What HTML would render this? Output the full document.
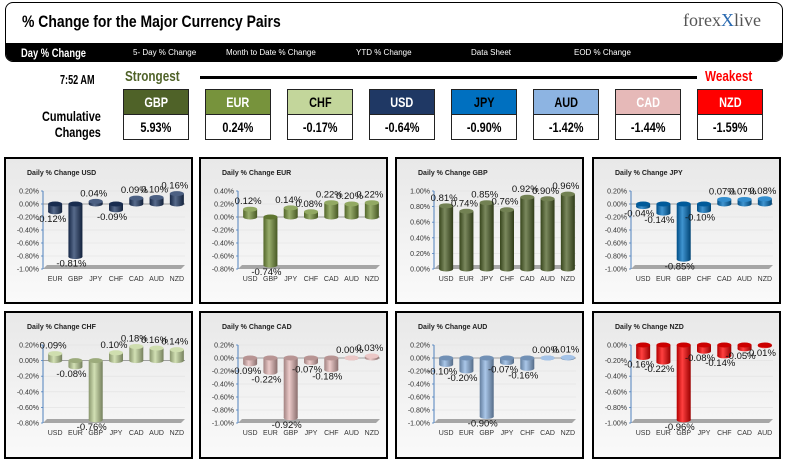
<!DOCTYPE html>
<html><head><meta charset="utf-8">
<style>
body{margin:0;background:#fff;width:789px;height:462px;overflow:hidden;font-family:"Liberation Sans",sans-serif;position:relative}
.a{position:absolute;white-space:nowrap}
.nar{font-family:"Liberation Sans Narrow","Liberation Sans",sans-serif;font-weight:bold;transform:scaleX(0.78);transform-origin:0 0}
.cb,.cv{position:absolute;width:64px;height:24px;border:1px solid #222;text-align:center;line-height:24px;font-size:14px;font-weight:bold}
.cv{background:#fff}
.cb span,.cv span{display:inline-block;transform:scaleX(0.78)}
</style></head><body>
<div class="a" style="left:5px;top:2px;width:776px;height:58px;border:1px solid #000;border-radius:8px;overflow:hidden">
  <div class="a nar" style="left:16px;top:9px;font-size:17px;transform:scaleX(0.82)">% Change for the Major Currency Pairs</div>
  <div class="a" style="left:677px;top:7px;font-family:'Liberation Serif',serif;font-size:18px;color:#555">forex<span style="color:#2a6ab0">X</span>live</div>
  <div class="a" style="left:0;top:40px;width:776px;height:20px;background:#000;color:#fff">
    <div class="a nar" style="left:15px;top:3px;font-size:12px">Day % Change</div>
    <div class="a" style="left:127px;top:5px;font-size:8px">5- Day % Change</div>
    <div class="a" style="left:220px;top:5px;font-size:8px">Month to Date % Change</div>
    <div class="a" style="left:350px;top:5px;font-size:8px">YTD % Change</div>
    <div class="a" style="left:465px;top:5px;font-size:8px">Data Sheet</div>
    <div class="a" style="left:568px;top:5px;font-size:8px">EOD % Change</div>
  </div>
</div>
<div class="a nar" style="left:60px;top:72px;font-size:13px;transform:scaleX(0.7)">7:52 AM</div>
<div class="a nar" style="left:125px;top:68px;font-size:15px;color:#4f6228">Strongest</div>
<div class="a" style="left:200px;top:76px;width:497px;height:3px;background:#000"></div>
<div class="a nar" style="left:705px;top:68px;font-size:15px;color:#ff0000">Weakest</div>
<div class="a nar" style="left:42px;top:108px;font-size:14px;text-align:right;line-height:16px;transform:scaleX(0.78)">Cumulative<br>Changes</div>
<div id="boxes"></div>
<div id="panels"></div>
<script>
const rankNames=["GBP","EUR","CHF","USD","JPY","AUD","CAD","NZD"];
const rankValues=["5.93%","0.24%","-0.17%","-0.64%","-0.90%","-1.42%","-1.44%","-1.59%"];
const colors={USD:"#1f3864",EUR:"#77933c",GBP:"#4f6228",JPY:"#0070c0",CHF:"#c3d69b",CAD:"#e6b9b8",AUD:"#8db4e2",NZD:"#ff0000"};
const textCol={GBP:"#fff",EUR:"#fff",CHF:"#000",USD:"#fff",JPY:"#000",AUD:"#000",CAD:"#fff",NZD:"#fff"};
const bx=document.getElementById('boxes');
rankNames.forEach((n,i)=>{
  const x=123+i*82;
  const h=document.createElement('div');h.className='cb';
  
  
  h.style.cssText=`left:${x}px;top:89px;background:${colors[n]};color:${textCol[n]}`;h.innerHTML='<span>'+n+'</span>';bx.appendChild(h);
  const v=document.createElement('div');v.className='cv';
  
  
  v.style.cssText=`left:${x}px;top:114px`;v.innerHTML='<span>'+rankValues[i]+'</span>';bx.appendChild(v);
});

const titles=["USD","EUR","GBP","JPY","CHF","CAD","AUD","NZD"];
const cats_USD=["EUR","GBP","JPY","CHF","CAD","AUD","NZD"];
const vals_USD=[-0.12,-0.81,0.04,-0.09,0.09,0.10,0.16];
const cats_EUR=["USD","GBP","JPY","CHF","CAD","AUD","NZD"];
const vals_EUR=[0.12,-0.74,0.14,0.08,0.22,0.20,0.22];
const cats_GBP=["USD","EUR","JPY","CHF","CAD","AUD","NZD"];
const vals_GBP=[0.81,0.74,0.85,0.76,0.92,0.90,0.96];
const cats_JPY=["USD","EUR","GBP","CHF","CAD","AUD","NZD"];
const vals_JPY=[-0.04,-0.14,-0.85,-0.10,0.07,0.07,0.08];
const cats_CHF=["USD","EUR","GBP","JPY","CAD","AUD","NZD"];
const vals_CHF=[0.09,-0.08,-0.76,0.10,0.18,0.16,0.14];
const cats_CAD=["USD","EUR","GBP","JPY","CHF","AUD","NZD"];
const vals_CAD=[-0.09,-0.22,-0.92,-0.07,-0.18,0.00,0.03];
const cats_AUD=["USD","EUR","GBP","JPY","CHF","CAD","NZD"];
const vals_AUD=[-0.10,-0.20,-0.90,-0.07,-0.16,0.00,0.01];
const cats_NZD=["USD","EUR","GBP","JPY","CHF","CAD","AUD"];
const vals_NZD=[-0.16,-0.22,-0.96,-0.08,-0.14,-0.05,-0.01];
const axisMin=[-1.0,-0.8,0.0,-1.0,-0.8,-1.0,-1.0,-1.0];
const axisMax=[0.2,0.4,1.0,0.2,0.2,0.2,0.2,0.0];
const axisStep=[0.2,0.2,0.2,0.2,0.2,0.2,0.2,0.2];
const allCats=[cats_USD,cats_EUR,cats_GBP,cats_JPY,cats_CHF,cats_CAD,cats_AUD,cats_NZD];
const allVals=[vals_USD,vals_EUR,vals_GBP,vals_JPY,vals_CHF,vals_CAD,vals_AUD,vals_NZD];
const panelX=[4,199,395,592,4,199,395,592];
const panelY=[157,157,157,157,311,311,311,311];

function shade(hex,f){const n=parseInt(hex.slice(1),16);let r=n>>16,g=(n>>8)&255,b=n&255;
  const m=c=>Math.max(0,Math.min(255,Math.round(f<0?c*(1+f):c+(255-c)*f)));return `rgb(${m(r)},${m(g)},${m(b)})`;}
const NS="http://www.w3.org/2000/svg";
function el(t,a,p){const e=document.createElementNS(NS,t);for(const k in a)e.setAttribute(k,a[k]);p.appendChild(e);return e;}

const host=document.getElementById('panels');
titles.forEach((cur,pi)=>{
  const W=189,H=pi<4?147:148;
  const svg=document.createElementNS(NS,'svg');
  svg.setAttribute('width',W);svg.setAttribute('height',H);
  
  
  svg.style.cssText=`position:absolute;left:${panelX[pi]}px;top:${panelY[pi]}px`;
  host.appendChild(svg);
  const col=colors[cur];
  const defs=el('defs',{},svg);
  const bg=el('linearGradient',{id:'bg'+pi,x1:0,y1:0,x2:0,y2:1},defs);
  el('stop',{offset:0,'stop-color':'#e8e8e8'},bg);el('stop',{offset:1,'stop-color':'#fafafa'},bg);
  const g=el('linearGradient',{id:'bar'+pi,x1:0,y1:0,x2:1,y2:0},defs);
  el('stop',{offset:0,'stop-color':shade(col,-0.3)},g);
  el('stop',{offset:0.4,'stop-color':shade(col,0.25)},g);
  el('stop',{offset:1,'stop-color':shade(col,-0.4)},g);
  const fr=el('rect',{x:1,y:1,width:W-2,height:H-2,fill:'url(#bg'+pi+')',stroke:'#000','stroke-width':2},svg);
  
  const t=el('text',{x:23,y:18,'font-size':7,'font-weight':'bold',fill:'#222'},svg);
  t.textContent='Daily % Change '+cur;
  const top=34,bot=112,ax=39,right=W-8;
  const y=v=>top+(axisMax[pi]-v)/(axisMax[pi]-axisMin[pi])*(bot-top);
  const nT=Math.round((axisMax[pi]-axisMin[pi])/axisStep[pi]);
  const fl=el('polygon',{points:`${ax},${bot} ${right-4},${bot} ${right},${bot-4} ${ax+4},${bot-4}`,fill:'#a6a6a6'},svg);
  
  for(let i=0;i<=nT;i++){const v=axisMax[pi]-i*axisStep[pi];const yy=y(v);
    if(i<nT){const gl=el('line',{x1:ax,x2:right,y1:yy,y2:yy,stroke:'#e0e0e0','stroke-width':0.6},svg);}
    const tl=el('text',{x:ax-4,y:yy+2.5,'font-size':7,'text-anchor':'end',fill:'#333'},svg);
    tl.textContent=v.toFixed(2)+'%';
    el('line',{x1:ax-2,x2:ax,y1:yy,y2:yy,stroke:'#4f81bd','stroke-width':0.8},svg);}
  const ya=el('line',{x1:ax,x2:ax,y1:top,y2:bot,stroke:'#4f81bd','stroke-width':1},svg);
  const z=y(0);
  if(axisMin[pi]<0&&axisMax[pi]>0){const zl=el('line',{x1:ax,x2:right,y1:z,y2:z,stroke:'#888','stroke-width':0.8},svg);}
  const slot=(right-ax)/7,bw=14,ry=2.5;
  allCats[pi].forEach((c,i)=>{
    const v=allVals[pi][i],cx=ax+slot*(i+0.5)+2,x0=cx-bw/2;
    const y0=Math.min(z,y(v)),y1=Math.max(z,y(v));
    const r=el('rect',{x:x0,y:y0,width:bw,height:Math.max(0.5,y1-y0),fill:'url(#bar'+pi+')'},svg);
    
    el('ellipse',{cx:cx,cy:y1,rx:bw/2,ry:ry,fill:'url(#bar'+pi+')'},svg);
    el('ellipse',{cx:cx,cy:y0,rx:bw/2,ry:ry,fill:shade(col,v<0?-0.2:0.2)},svg);
    const vl=el('text',{x:cx-(v<0?4:2),y:v<0?y(v)+10:y(v)-5,'font-size':9.5,'text-anchor':'middle',fill:'#111'},svg);
    vl.textContent=v.toFixed(2)+'%';
    const cl=el('text',{x:cx,y:bot+12,'font-size':7,'text-anchor':'middle',fill:'#333'},svg);
    cl.textContent=c;
  });
});
</script>
</body></html>
